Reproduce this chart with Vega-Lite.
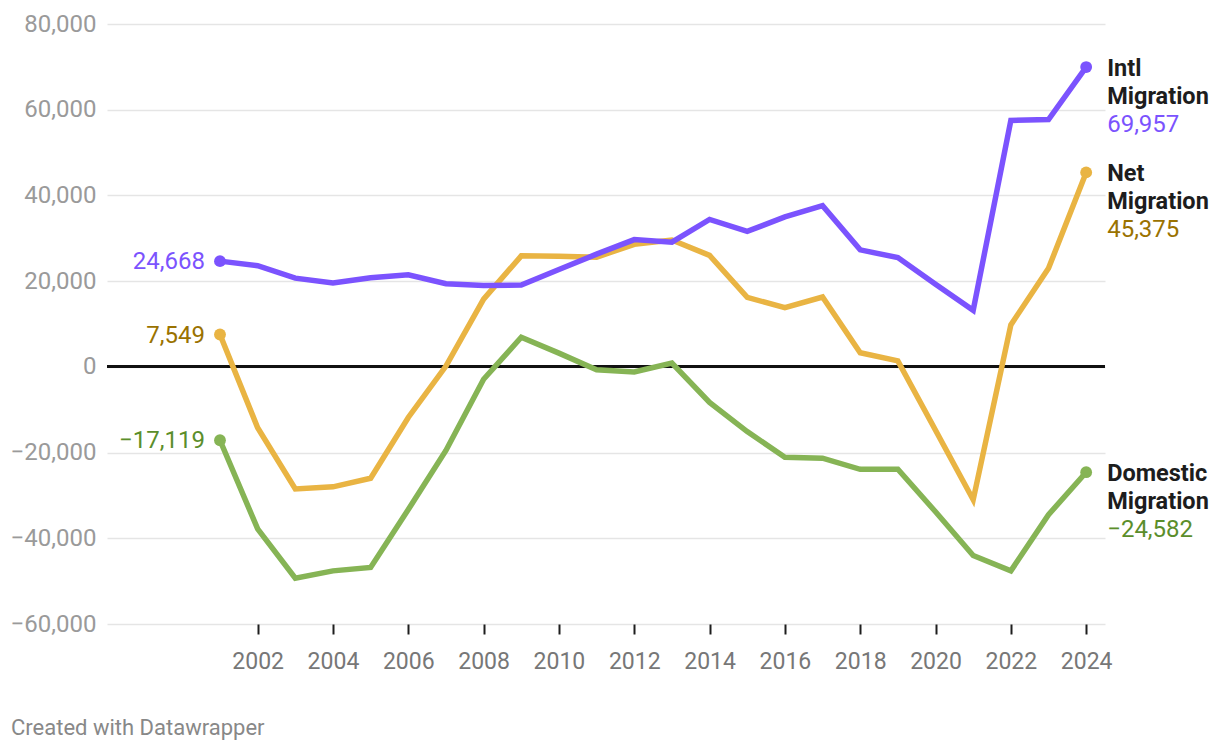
{
  "$schema": "https://vega.github.io/schema/vega-lite/v6.json",
  "width": 998,
  "height": 600,
  "autosize": {"type": "none"},
  "padding": {"left": 107, "top": 24, "right": 115, "bottom": 126},
  "background": "white",
  "config": {
    "font": "Roboto",
    "view": {"stroke": null},
    "axis": {"labelFont": "Roboto", "domain": false}
  },
  "title": {
    "text": "Created with Datawrapper",
    "orient": "bottom",
    "anchor": "start",
    "frame": "group",
    "dx": -96,
    "offset": 45,
    "fontSize": 22,
    "fontWeight": "normal",
    "color": "#888888",
    "font": "Roboto"
  },
  "data": {
    "values": [
      {"year": 2001, "series": "Domestic Migration", "value": -17119},
      {"year": 2002, "series": "Domestic Migration", "value": -37800},
      {"year": 2003, "series": "Domestic Migration", "value": -49300},
      {"year": 2004, "series": "Domestic Migration", "value": -47600},
      {"year": 2005, "series": "Domestic Migration", "value": -46800},
      {"year": 2006, "series": "Domestic Migration", "value": -33300},
      {"year": 2007, "series": "Domestic Migration", "value": -19500},
      {"year": 2008, "series": "Domestic Migration", "value": -2900},
      {"year": 2009, "series": "Domestic Migration", "value": 6900},
      {"year": 2010, "series": "Domestic Migration", "value": 3200},
      {"year": 2011, "series": "Domestic Migration", "value": -700},
      {"year": 2012, "series": "Domestic Migration", "value": -1200},
      {"year": 2013, "series": "Domestic Migration", "value": 900},
      {"year": 2014, "series": "Domestic Migration", "value": -8300},
      {"year": 2015, "series": "Domestic Migration", "value": -15100},
      {"year": 2016, "series": "Domestic Migration", "value": -21100},
      {"year": 2017, "series": "Domestic Migration", "value": -21300},
      {"year": 2018, "series": "Domestic Migration", "value": -23900},
      {"year": 2019, "series": "Domestic Migration", "value": -23900},
      {"year": 2020, "series": "Domestic Migration", "value": -33800},
      {"year": 2021, "series": "Domestic Migration", "value": -44000},
      {"year": 2022, "series": "Domestic Migration", "value": -47600},
      {"year": 2023, "series": "Domestic Migration", "value": -34500},
      {"year": 2024, "series": "Domestic Migration", "value": -24582},
      {"year": 2001, "series": "Net Migration", "value": 7549},
      {"year": 2002, "series": "Net Migration", "value": -14200},
      {"year": 2003, "series": "Net Migration", "value": -28500},
      {"year": 2004, "series": "Net Migration", "value": -28000},
      {"year": 2005, "series": "Net Migration", "value": -26000},
      {"year": 2006, "series": "Net Migration", "value": -11800},
      {"year": 2007, "series": "Net Migration", "value": 200},
      {"year": 2008, "series": "Net Migration", "value": 15800},
      {"year": 2009, "series": "Net Migration", "value": 25900},
      {"year": 2010, "series": "Net Migration", "value": 25800},
      {"year": 2011, "series": "Net Migration", "value": 25600},
      {"year": 2012, "series": "Net Migration", "value": 28600},
      {"year": 2013, "series": "Net Migration", "value": 29600},
      {"year": 2014, "series": "Net Migration", "value": 26000},
      {"year": 2015, "series": "Net Migration", "value": 16200},
      {"year": 2016, "series": "Net Migration", "value": 13800},
      {"year": 2017, "series": "Net Migration", "value": 16300},
      {"year": 2018, "series": "Net Migration", "value": 3300},
      {"year": 2019, "series": "Net Migration", "value": 1400},
      {"year": 2020, "series": "Net Migration", "value": -14800},
      {"year": 2021, "series": "Net Migration", "value": -31000},
      {"year": 2022, "series": "Net Migration", "value": 9800},
      {"year": 2023, "series": "Net Migration", "value": 23000},
      {"year": 2024, "series": "Net Migration", "value": 45375},
      {"year": 2001, "series": "Intl Migration", "value": 24668},
      {"year": 2002, "series": "Intl Migration", "value": 23600},
      {"year": 2003, "series": "Intl Migration", "value": 20700},
      {"year": 2004, "series": "Intl Migration", "value": 19600},
      {"year": 2005, "series": "Intl Migration", "value": 20800},
      {"year": 2006, "series": "Intl Migration", "value": 21500},
      {"year": 2007, "series": "Intl Migration", "value": 19400},
      {"year": 2008, "series": "Intl Migration", "value": 19000},
      {"year": 2009, "series": "Intl Migration", "value": 19100},
      {"year": 2010, "series": "Intl Migration", "value": 22700},
      {"year": 2011, "series": "Intl Migration", "value": 26300},
      {"year": 2012, "series": "Intl Migration", "value": 29700},
      {"year": 2013, "series": "Intl Migration", "value": 29100},
      {"year": 2014, "series": "Intl Migration", "value": 34400},
      {"year": 2015, "series": "Intl Migration", "value": 31600},
      {"year": 2016, "series": "Intl Migration", "value": 35000},
      {"year": 2017, "series": "Intl Migration", "value": 37600},
      {"year": 2018, "series": "Intl Migration", "value": 27300},
      {"year": 2019, "series": "Intl Migration", "value": 25500},
      {"year": 2020, "series": "Intl Migration", "value": 19300},
      {"year": 2021, "series": "Intl Migration", "value": 13200},
      {"year": 2022, "series": "Intl Migration", "value": 57500},
      {"year": 2023, "series": "Intl Migration", "value": 57700},
      {"year": 2024, "series": "Intl Migration", "value": 69957}
    ]
  },
  "encoding": {
    "x": {
      "field": "year",
      "type": "quantitative",
      "scale": {"domain": [1998, 2024.5], "nice": false, "zero": false},
      "axis": {
        "values": [2002, 2004, 2006, 2008, 2010, 2012, 2014, 2016, 2018, 2020, 2022, 2024],
        "format": "d",
        "title": null,
        "grid": false,
        "ticks": true,
        "tickColor": "#1d1d1d",
        "tickWidth": 2,
        "tickSize": 10,
        "labelFontSize": 23,
        "labelColor": "#777777",
        "labelPadding": 16
      }
    },
    "y": {
      "field": "value",
      "type": "quantitative",
      "scale": {"domain": [-60000, 80000], "nice": false},
      "axis": {
        "values": [-60000, -40000, -20000, 0, 20000, 40000, 60000, 80000],
        "format": ",d",
        "title": null,
        "ticks": false,
        "grid": true,
        "gridColor": "#e5e5e5",
        "gridWidth": 1.6,
        "labelFontSize": 24,
        "labelColor": "#9a9a9a",
        "labelPadding": 11
      }
    }
  },
  "layer": [
    {
      "mark": {"type": "rule", "color": "#111111", "strokeWidth": 2},
      "encoding": {"x": null, "y": {"datum": 0}}
    },
    {
      "mark": {"type": "line", "strokeWidth": 5.5, "strokeJoin": "miter", "strokeCap": "butt"},
      "encoding": {
        "color": {
          "field": "series",
          "type": "nominal",
          "scale": {
            "domain": ["Intl Migration", "Net Migration", "Domestic Migration"],
            "range": ["#7b53fe", "#e9b443", "#86b455"]
          },
          "legend": null
        }
      }
    },
    {
      "transform": [{"filter": "datum.year == 2001 || datum.year == 2024"}],
      "mark": {"type": "circle", "size": 140, "opacity": 1},
      "encoding": {
        "color": {
          "field": "series",
          "type": "nominal",
          "scale": {
            "domain": ["Intl Migration", "Net Migration", "Domestic Migration"],
            "range": ["#7b53fe", "#e9b443", "#86b455"]
          },
          "legend": null
        }
      }
    },
    {
      "transform": [{"filter": "datum.year == 2024"}],
      "mark": {
        "type": "text",
        "align": "left",
        "baseline": "alphabetic",
        "dx": 21,
        "dy": 9,
        "fontSize": 23.5,
        "fontWeight": "bold",
        "color": "#1d1d1d",
        "lineBreak": " ",
        "lineHeight": 28
      },
      "encoding": {"text": {"field": "series"}}
    },
    {
      "transform": [{"filter": "datum.year == 2024"}],
      "mark": {
        "type": "text",
        "align": "left",
        "baseline": "alphabetic",
        "dx": 21,
        "dy": 65,
        "fontSize": 24
      },
      "encoding": {
        "text": {"field": "value", "format": ",d"},
        "color": {
          "field": "series",
          "type": "nominal",
          "scale": {
            "domain": ["Intl Migration", "Net Migration", "Domestic Migration"],
            "range": ["#7b53fe", "#9a7200", "#5b8e2b"]
          },
          "legend": null
        }
      }
    },
    {
      "transform": [{"filter": "datum.year == 2001"}],
      "mark": {
        "type": "text",
        "align": "right",
        "baseline": "alphabetic",
        "dx": -15,
        "dy": 8,
        "fontSize": 24
      },
      "encoding": {
        "text": {"field": "value", "format": ",d"},
        "color": {
          "field": "series",
          "type": "nominal",
          "scale": {
            "domain": ["Intl Migration", "Net Migration", "Domestic Migration"],
            "range": ["#7b53fe", "#9a7200", "#5b8e2b"]
          },
          "legend": null
        }
      }
    }
  ],
  "resolve": {"scale": {"color": "independent"}}
}
